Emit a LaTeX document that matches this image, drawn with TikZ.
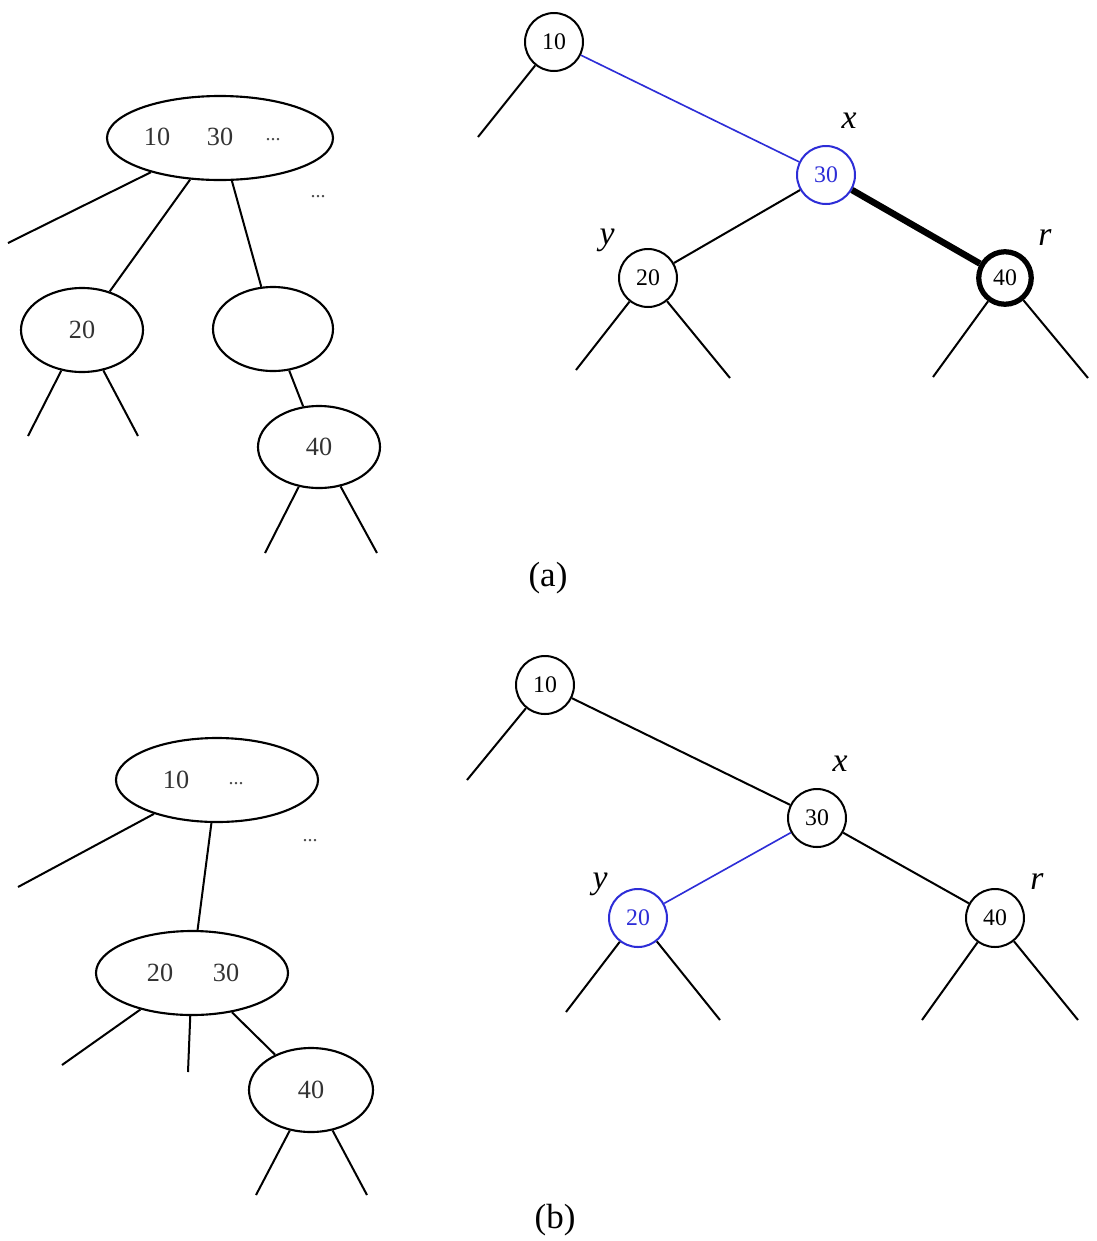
\documentclass[tikz,border=0pt]{standalone}
\usepackage{fontspec}
\setmainfont{Liberation Serif}
\usetikzlibrary{shapes.geometric}
\definecolor{refblue}{RGB}{45,45,215}
\begin{document}
\begin{tikzpicture}[x=0.4pt,y=-0.4pt,
  ell/.style={draw, ellipse, line width=0.85pt, inner sep=0pt, minimum height=33.6pt},
  num/.style={inner sep=0pt, font=\fontsize{10.5}{12}\selectfont, text=black!80},
  dots/.style={inner sep=0pt, font=\fontsize{8}{9}\selectfont, text=black!70},
  circ/.style={draw, circle, line width=0.8pt, minimum size=23.2pt, inner sep=0pt, font=\fontsize{9.5}{10}\selectfont},
  bcirc/.style={circ, draw=refblue, text=refblue},
  tcirc/.style={circ, line width=2.1pt, minimum size=21pt},
  edge/.style={line width=0.8pt},
  bedge/.style={line width=0.65pt, draw=refblue},
  tedge/.style={line width=2.6pt},
  lab/.style={inner sep=0pt, font=\fontsize{13.5}{14}\selectfont\itshape},
  captext/.style={inner sep=0pt, font=\fontsize{14}{16}\selectfont}
]
\fill[white] (0,0) rectangle (1097,1241);
\useasboundingbox (0,0) rectangle (1097,1241);

% ---------- (a) left: B-tree ----------
\node[ell, minimum width=90.4pt] (aR) at (220,138) {};
\node[num] (aR10) at (157,137) {10};
\node[num] (aR30) at (220,137) {30};
\node[dots] (aRd) at (273,140) {...};
\node[dots] (aDots) at (318,197) {...};
\node[ell, minimum width=48.8pt] (a20) at (82,330) {};
\node[num] (a20t) at (82,330) {20};
\node[ell, minimum width=48pt] (aE) at (273,329) {};
\node[ell, minimum width=48.8pt, minimum height=32.8pt] (a40) at (319,447) {};
\node[num] (a40t) at (319,447) {40};
\coordinate (aL0) at (8,243);
\coordinate (a20l) at (28,436);
\coordinate (a20r) at (138,436);
\coordinate (a40l) at (265,553);
\coordinate (a40r) at (377,553);
\draw[edge] (aR) -- (aL0);
\draw[edge] (aR) -- (a20);
\draw[edge] (aR) -- (aE);
\draw[edge] (aE) -- (a40);
\draw[edge] (a20) -- (a20l);
\draw[edge] (a20) -- (a20r);
\draw[edge] (a40) -- (a40l);
\draw[edge] (a40) -- (a40r);

% ---------- (a) right: red-black tree ----------
\node[circ] (t10) at (554,42) {10};
\node[bcirc] (t30) at (826,175) {30};
\node[circ] (t20) at (648,278) {20};
\node[tcirc] (t40) at (1005,278) {40};
\node[lab] (tx) at (849,121) {x};
\node[lab] (ty) at (607,240) {y};
\node[lab] (tr) at (1045,238) {r};
\coordinate (t10l) at (478,137);
\coordinate (t20l) at (576,370);
\coordinate (t20r) at (730,378);
\coordinate (t40l) at (933,377);
\coordinate (t40r) at (1088,378);
\draw[edge] (t10) -- (t10l);
\draw[bedge] (t10) -- (t30);
\draw[edge] (t30) -- (t20);
\draw[tedge] (t30) -- (t40);
\draw[edge] (t20) -- (t20l);
\draw[edge] (t20) -- (t20r);
\draw[edge] (t40) -- (t40l);
\draw[edge] (t40) -- (t40r);

\node[captext] (capa) at (548,578) {(a)};

% ---------- (b) left: B-tree ----------
\node[ell, minimum width=80.8pt] (bR) at (217,780) {};
\node[num] (bR10) at (176,780) {10};
\node[dots] (bRd) at (236,784) {...};
\node[dots] (bDots) at (310,841) {...};
\node[ell, minimum width=76.8pt] (bM) at (192,973) {};
\node[num] (bM20) at (160,973) {20};
\node[num] (bM30) at (226,973) {30};
\node[ell, minimum width=49.6pt] (b40) at (311,1090) {};
\node[num] (b40t) at (311,1090) {40};
\coordinate (bL0) at (18,887);
\coordinate (bMl) at (62,1065);
\coordinate (bMm) at (188,1072);
\coordinate (b40l) at (256,1195);
\coordinate (b40r) at (367,1195);
\draw[edge] (bR) -- (bL0);
\draw[edge] (bR) -- (bM);
\draw[edge] (bM) -- (bMl);
\draw[edge] (bM) -- (bMm);
\draw[edge] (bM) -- (b40);
\draw[edge] (b40) -- (b40l);
\draw[edge] (b40) -- (b40r);

% ---------- (b) right: red-black tree ----------
\node[circ] (u10) at (545,685) {10};
\node[circ] (u30) at (817,818) {30};
\node[bcirc] (u20) at (638,918) {20};
\node[circ] (u40) at (995,918) {40};
\node[lab] (ux) at (840,764) {x};
\node[lab] (uy) at (600,884) {y};
\node[lab] (ur) at (1037,882) {r};
\coordinate (u10l) at (467,780);
\coordinate (u20l) at (566,1012);
\coordinate (u20r) at (720,1020);
\coordinate (u40l) at (922,1020);
\coordinate (u40r) at (1078,1020);
\draw[edge] (u10) -- (u10l);
\draw[edge] (u10) -- (u30);
\draw[bedge] (u30) -- (u20);
\draw[edge] (u30) -- (u40);
\draw[edge] (u20) -- (u20l);
\draw[edge] (u20) -- (u20r);
\draw[edge] (u40) -- (u40l);
\draw[edge] (u40) -- (u40r);

\node[captext] (capb) at (555,1220) {(b)};
\end{tikzpicture}
\end{document}
